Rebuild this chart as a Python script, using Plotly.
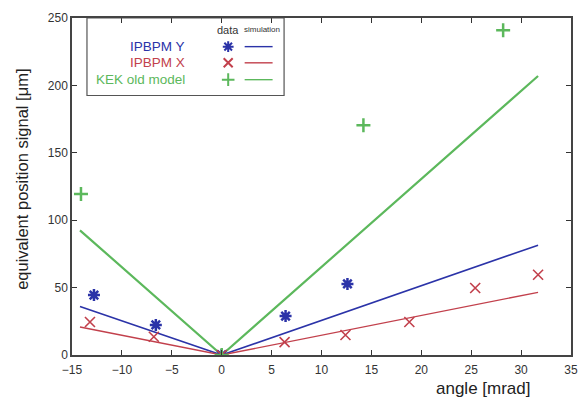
import plotly.graph_objects as go

# data points
y_ang = [-12.8, -6.6, 0, 6.4, 12.6]
y_sig = [44.5, 22.3, 0, 28.9, 52.7]
x_ang = [-13.2, -6.8, 0, 6.3, 12.4, 18.8, 25.4, 31.7]
x_sig = [24.5, 13.5, 0, 9.6, 14.8, 24.5, 49.7, 59.5]
k_ang = [-14.1, 0, 14.2, 28.2]
k_sig = [119.5, 0, 170.5, 241]

# simulation lines
sim_ang = [-14.2, 0, 31.7]
simY = [36, 0, 81.5]
simX = [20.8, 0, 46.5]
simK = [92.5, 0, 207]

BLUE = "#2b33a8"
RED = "#c2404c"
GREEN = "#5cb85c"

fig = go.Figure()
fig.add_trace(go.Scatter(x=sim_ang, y=simK, mode="lines", line=dict(color=GREEN, width=2.2), showlegend=False))
fig.add_trace(go.Scatter(x=sim_ang, y=simY, mode="lines", line=dict(color=BLUE, width=1.6), showlegend=False))
fig.add_trace(go.Scatter(x=sim_ang, y=simX, mode="lines", line=dict(color=RED, width=1.4), showlegend=False))
fig.add_trace(go.Scatter(x=y_ang, y=y_sig, mode="markers",
                         marker=dict(symbol="asterisk-open", size=10, color=BLUE, line=dict(color=BLUE, width=2.5)), showlegend=False))
fig.add_trace(go.Scatter(x=x_ang, y=x_sig, mode="markers",
                         marker=dict(symbol="x-thin-open", size=10, color=RED, line=dict(color=RED, width=1.6)), showlegend=False))
fig.add_trace(go.Scatter(x=k_ang, y=k_sig, mode="markers",
                         marker=dict(symbol="cross-thin-open", size=10, color=GREEN, line=dict(color=GREEN, width=2.5)), showlegend=False))

# legend drawn on an overlay axis (0..1 paper-like)
leg_names = ["IPBPM Y", "IPBPM X", "KEK old model"]
leg_colors = [BLUE, RED, GREEN]
leg_symbols = ["asterisk-open", "x-thin-open", "cross-thin-open"]
leg_y = [0.915, 0.867, 0.817]
for n, c, s, yy in zip(leg_names, leg_colors, leg_symbols, leg_y):
    fig.add_trace(go.Scatter(x=[0.313], y=[yy], mode="markers", xaxis="x2", yaxis="y2",
                             marker=dict(symbol=s, size=9, color=c, line=dict(color=c, width=2)), showlegend=False))
    fig.add_trace(go.Scatter(x=[0.346, 0.402], y=[yy, yy], mode="lines", xaxis="x2", yaxis="y2",
                             line=dict(color=c, width=1.4), showlegend=False))
    fig.add_annotation(x=0.23, y=yy, xref="x2", yref="y2", text=n, showarrow=False,
                       xanchor="right", yanchor="middle", font=dict(color=c, size=13.5))

fig.add_annotation(x=0.313, y=0.965, xref="x2", yref="y2", text="data", showarrow=False,
                   font=dict(size=11, color="#333"), yanchor="middle")
fig.add_annotation(x=0.38, y=0.965, xref="x2", yref="y2", text="simulation", showarrow=False,
                   font=dict(size=8, color="#333"), yanchor="middle")

fig.add_shape(type="rect", xref="x2", yref="y2", x0=0.03, x1=0.425, y0=0.77, y1=1.0,
              line=dict(color="#555", width=1.2), fillcolor="rgba(0,0,0,0)")

fig.add_annotation(x=0.825, y=-0.1, xref="paper", yref="paper", text="angle [mrad]", showarrow=False,
                   font=dict(size=17, color="#222"), xanchor="center", yanchor="middle")
fig.add_annotation(x=-0.1, y=0.52, xref="paper", yref="paper", text="equivalent position signal [μm]",
                   showarrow=False, textangle=-90, font=dict(size=16.5, color="#222"),
                   xanchor="center", yanchor="middle")

axis_common = dict(showgrid=False, zeroline=False, ticks="inside", ticklen=5, tickwidth=1,
                   tickcolor="#333", showline=True, linecolor="#444", linewidth=1.5, mirror="ticks",
                   tickfont=dict(size=12, color="#333"))
fig.update_layout(
    width=587, height=403,
    margin=dict(l=72, r=9, t=18, b=48),
    paper_bgcolor="white", plot_bgcolor="white",
    font=dict(family="Liberation Sans, Arial, sans-serif"),
    xaxis=dict(range=[-15, 35], tickmode="array", tickvals=list(range(-15, 36, 5)),
               ticklabelstandoff=3, **axis_common),
    yaxis=dict(range=[0, 250], tickmode="array", tickvals=list(range(0, 251, 50)), **axis_common),
    xaxis2=dict(range=[0, 1], overlaying="x", visible=False, fixedrange=True),
    yaxis2=dict(range=[0, 1], overlaying="y", visible=False, fixedrange=True),
)

fig.write_html("out.html", config={"displayModeBar": False},
               post_script="document.body.style.margin='0px';")
